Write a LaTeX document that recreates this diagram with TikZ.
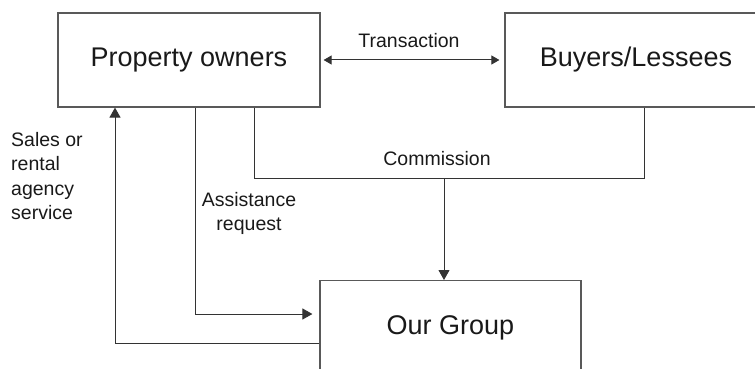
\documentclass[tikz,border=0pt]{standalone}
\usepackage{fontspec}
\setmainfont{Liberation Sans}
\usetikzlibrary{arrows.meta}
\begin{document}
\begin{tikzpicture}[x=1pt,y=-1pt,
  box/.style={draw=black!65, line width=1.2pt, minimum width=262pt, minimum height=94pt, inner sep=0pt, font=\fontsize{27}{31}\selectfont, text=black!90},
  lbl/.style={inner sep=0pt, font=\fontsize{19.5}{24.5}\selectfont, text=black!90},
  conn/.style={draw=black!80, line width=1pt},
  arr/.style={conn, -{Triangle[length=10pt,width=11pt]}},
  darr/.style={conn, {Triangle[length=8pt,width=9pt]}-{Triangle[length=8pt,width=9pt]}}]
\useasboundingbox (0,0) rectangle (755,369);
\node[box] (po) at (189,60) {Property owners};
\node[box] (bl) at (636,60) {Buyers/Lessees};
\node[box, anchor=north, minimum width=261pt] (og) at (450.5,280) {Our Group};
% transaction
\draw[darr, shorten <=3pt, shorten >=5pt] (po.east) -- (bl.west);
\node[lbl] (tr) at (409,41) {Transaction};
% commission
\coordinate (c1) at (254,178);
\coordinate (c2) at (644,178);
\coordinate (cm) at (444,178);
\draw[conn] (po.south -| c1) -- (c1) -- (c2) -- (bl.south -| c2);
\draw[arr] (cm) -- (og.north -| cm);
\node[lbl] (cl) at (437,159) {Commission};
% assistance request
\coordinate (a1) at (195,314);
\draw[conn] (po.south -| a1) -- (a1);
\draw[arr, shorten >=7pt] (a1) -- (og.west |- a1);
\node[lbl, align=center, anchor=north] (al) at (249,192) {Assistance\\request};
% sales or rental agency service
\coordinate (s1) at (115,343);
\draw[conn] (og.west |- s1) -- (s1);
\draw[arr] (s1) -- (po.south -| s1);
\node[lbl, align=left, anchor=north west] (sl) at (11,132) {Sales or\\rental\\agency\\service};
\end{tikzpicture}
\end{document}
